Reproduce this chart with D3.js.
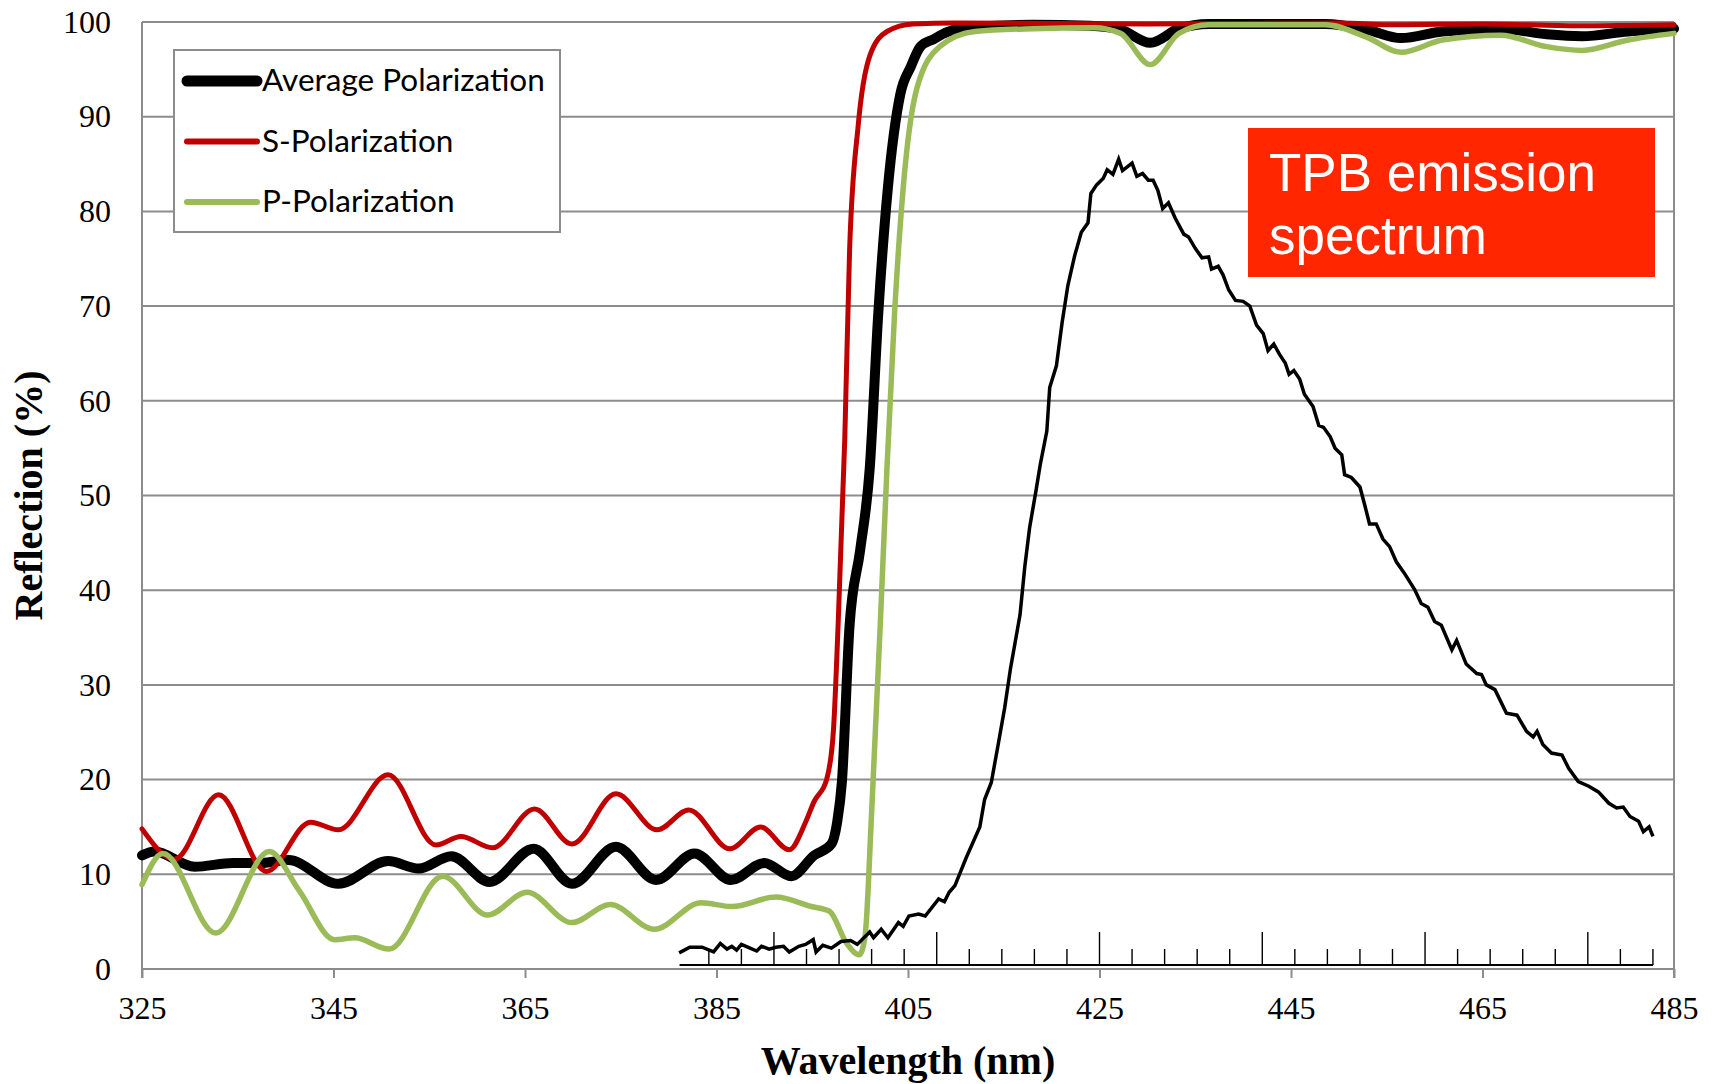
<!DOCTYPE html>
<html>
<head>
<meta charset="utf-8">
<script src="https://cdn.jsdelivr.net/npm/d3@7"></script>
<style>
  html, body { margin: 0; padding: 0; background: #fff; }
  svg { display: block; }
</style>
</head>
<body>
<svg id="chart" width="1715" height="1084"></svg>
<script>
// ---- Reflection of the dichroic filter (wavelength in nm, reflection in %) ----
const avgWavelength = [325.0, 326.3, 330.5, 334.5, 337.5, 340.3, 345.5, 350.7, 353.9, 357.3, 361.3, 365.9, 369.9, 374.5, 378.7, 382.7, 386.5, 390.0, 392.8, 395.2, 397.0, 397.6, 398.1, 398.9, 400.0, 401.0, 401.9, 402.9, 404.2, 405.3, 406.3, 407.7, 409.0, 412.0, 418.0, 424.0, 427.2, 430.3, 433.3, 436.4, 448.6, 452.9, 456.5, 460.8, 466.9, 471.7, 475.4, 480.2, 485.0];
const avgReflection = [12.0, 12.4, 10.8, 11.2, 11.2, 11.5, 9.0, 11.4, 10.6, 11.9, 9.2, 12.7, 9.0, 12.9, 9.4, 12.2, 9.4, 11.2, 9.8, 12.0, 13.2, 15.5, 19.8, 36.3, 44.2, 52.8, 69.3, 82.5, 92.4, 95.3, 97.4, 98.2, 98.9, 99.5, 99.7, 99.6, 99.2, 97.8, 99.3, 99.8, 99.8, 99.2, 98.3, 99.0, 99.3, 98.7, 98.5, 99.0, 99.3];

const sWavelength = [325.0, 328.4, 333.0, 338.0, 342.6, 345.5, 350.7, 355.7, 358.3, 361.6, 366.0, 369.9, 374.5, 378.8, 382.1, 386.4, 389.6, 392.6, 394.3, 395.2, 396.5, 397.2, 397.7, 398.4, 398.9, 399.8, 401.0, 402.8, 405.5, 410.0, 430.0, 450.0, 456.0, 465.0, 475.0, 485.0];
const sReflection = [14.8, 11.6, 18.4, 10.3, 15.5, 14.7, 20.5, 13.1, 14.0, 12.8, 16.9, 13.2, 18.5, 14.7, 16.8, 12.7, 15.0, 12.6, 15.5, 17.7, 20.0, 25.0, 36.3, 56.1, 75.9, 89.1, 96.4, 99.0, 99.8, 99.9, 99.8, 99.9, 99.7, 99.8, 99.6, 99.7];

const pWavelength = [325.0, 327.2, 332.7, 338.3, 341.4, 345.1, 347.2, 350.8, 356.4, 361.1, 365.2, 369.9, 373.9, 378.5, 383.4, 386.6, 391.2, 394.9, 396.8, 398.6, 399.9, 400.5, 401.2, 402.1, 402.8, 403.6, 404.5, 405.9, 408.3, 412.0, 418.1, 424.4, 427.2, 430.3, 433.3, 436.4, 448.6, 452.9, 456.5, 460.8, 466.9, 471.7, 475.4, 480.2, 485.0];
const pReflection = [8.9, 12.2, 3.8, 12.4, 8.3, 3.1, 3.3, 2.1, 9.8, 5.7, 8.1, 4.9, 6.8, 4.2, 7.0, 6.6, 7.6, 6.6, 6.1, 2.7, 1.5, 3.3, 16.5, 36.3, 52.8, 69.3, 82.5, 92.9, 97.4, 99.0, 99.3, 99.4, 98.8, 95.5, 98.8, 99.7, 99.7, 98.4, 96.8, 98.1, 98.6, 97.4, 97.0, 98.1, 98.8];

// ---- TPB emission spectrum overlay (relative intensity on the same vertical scale) ----
const tpbWavelength = [381.1, 382.2, 383.5, 384.7, 385.4, 386.1, 386.6, 387.1, 387.6, 388.5, 389.2, 389.7, 390.5, 391.2, 392.0, 392.6, 393.6, 394.3, 395.1, 395.4, 396.1, 397.0, 398.0, 399.0, 399.7, 401.0, 401.4, 402.2, 402.9, 404.0, 404.5, 405.1, 406.1, 406.8, 408.2, 408.8, 409.3, 409.9, 411.1, 412.5, 413.0, 413.7, 414.4, 415.1, 415.7, 416.7, 417.2, 417.7, 418.4, 418.8, 419.5, 419.8, 420.5, 421.1, 421.7, 422.4, 423.1, 423.8, 424.1, 424.7, 425.4, 425.8, 426.4, 427.0, 427.4, 428.4, 428.9, 429.5, 430.1, 430.6, 431.1, 431.6, 432.2, 432.9, 433.8, 434.3, 435.0, 435.7, 436.4, 436.7, 437.4, 437.9, 438.5, 439.2, 440.0, 440.7, 441.4, 442.1, 442.6, 443.2, 443.8, 444.4, 444.8, 445.3, 445.9, 446.4, 447.3, 447.9, 448.4, 449.1, 449.6, 450.3, 450.6, 451.3, 452.2, 452.7, 453.2, 453.9, 454.6, 455.3, 456.0, 456.9, 457.9, 458.6, 459.3, 460.0, 460.7, 461.8, 462.3, 463.3, 464.4, 464.9, 465.4, 466.3, 467.5, 468.6, 469.6, 470.3, 470.7, 471.3, 472.2, 473.3, 474.0, 475.0, 476.1, 477.1, 478.2, 479.0, 479.7, 480.4, 481.3, 481.8, 482.4, 482.8];
const tpbIntensity = [1.7, 2.3, 2.3, 1.8, 2.7, 2.1, 2.4, 2.0, 2.6, 2.2, 1.9, 2.4, 2.1, 2.3, 2.4, 1.8, 2.4, 2.6, 3.1, 1.8, 2.5, 2.2, 2.9, 3.0, 2.6, 3.9, 3.3, 4.2, 3.3, 4.9, 4.5, 5.6, 5.8, 5.6, 7.4, 7.1, 8.1, 8.8, 11.8, 15.0, 17.9, 19.7, 23.6, 27.6, 31.7, 37.4, 42.5, 46.6, 50.7, 53.2, 56.8, 61.4, 63.7, 68.3, 72.2, 75.3, 77.8, 78.8, 81.9, 82.8, 83.5, 84.4, 83.9, 85.5, 84.3, 85.1, 83.7, 84.0, 83.3, 83.3, 82.2, 80.3, 80.9, 79.3, 77.6, 77.3, 76.1, 75.1, 75.2, 73.9, 74.2, 73.3, 71.7, 70.6, 70.5, 70.0, 68.0, 67.1, 65.3, 66.0, 64.9, 64.0, 62.8, 63.2, 62.3, 60.7, 59.4, 57.4, 57.2, 56.2, 55.0, 54.3, 52.2, 51.9, 50.9, 49.0, 47.0, 47.0, 45.4, 44.6, 43.0, 41.7, 40.1, 38.6, 38.2, 36.7, 36.3, 33.7, 34.7, 32.2, 31.2, 31.1, 30.0, 29.5, 27.0, 26.8, 25.1, 24.5, 25.1, 23.7, 22.8, 22.6, 21.2, 19.8, 19.3, 18.7, 17.5, 17.0, 17.1, 16.1, 15.6, 14.5, 15.0, 14.0];

// Own wavelength axis of the emission overlay
const tpbAxisDomain = [321, 620];
const tpbAxisTicks = d3.range(330, 621, 10);

// Axes
const xTicks = [325, 345, 365, 385, 405, 425, 445, 465, 485];
const yTicks = [0, 10, 20, 30, 40, 50, 60, 70, 80, 90, 100];

const seriesNames = ["Average Polarization", "S-Polarization", "P-Polarization"];
const seriesColors = ["#000000", "#C00000", "#9BBB59"];
const seriesWidths = [10, 5, 5.5];
const legendWidths = [11, 6, 6];

const xAxisTitle = "Wavelength (nm)";
const yAxisTitle = "Reflection (%)";
const noteLines = ["TPB emission", "spectrum"];

// ---------------------------------------------------------------------------
const svg = d3.select("#chart");
const gridColor = "#8c8c8c";
const serif = "'Liberation Serif', 'Times New Roman', serif";

const x = d3.scaleLinear().domain([325, 485]).range([142, 1674]);
const y = d3.scaleLinear().domain([0, 100]).range([969, 22]);

// horizontal gridlines
svg.append("g")
  .selectAll("line")
  .data(yTicks)
  .join("line")
  .attr("x1", x(325)).attr("x2", x(485))
  .attr("y1", d => y(d)).attr("y2", d => y(d))
  .attr("stroke", gridColor).attr("stroke-width", 2);

// right frame line
svg.append("line")
  .attr("x1", x(485)).attr("x2", x(485))
  .attr("y1", y(100)).attr("y2", y(0) + 9)
  .attr("stroke", gridColor).attr("stroke-width", 2);

// left axis line
svg.append("line")
  .attr("x1", x(325)).attr("x2", x(325))
  .attr("y1", y(100)).attr("y2", y(0) + 9)
  .attr("stroke", gridColor).attr("stroke-width", 2);

// bottom axis
const xAxis = svg.append("g")
  .attr("transform", `translate(0,${y(0)})`)
  .call(d3.axisBottom(x).tickValues(xTicks).tickSize(9).tickPadding(18).tickFormat(d3.format("d")));
xAxis.select(".domain").remove();
xAxis.selectAll(".tick line").attr("stroke", gridColor).attr("stroke-width", 2);
xAxis.selectAll("text")
  .attr("font-family", serif)
  .attr("font-size", 32).attr("fill", "#000");

// left axis labels
const yAxis = svg.append("g")
  .attr("transform", `translate(${x(325)},0)`)
  .call(d3.axisLeft(y).tickValues(yTicks).tickSize(0).tickPadding(31).tickFormat(d3.format("d")));
yAxis.select(".domain").remove();
yAxis.selectAll("text")
  .attr("font-family", serif)
  .attr("font-size", 32).attr("fill", "#000");

// axis titles
svg.append("text")
  .attr("x", (x(325) + x(485)) / 2).attr("y", 1074)
  .attr("text-anchor", "middle")
  .attr("font-family", serif)
  .attr("font-weight", "bold").attr("font-size", 40)
  .text(xAxisTitle);

svg.append("text")
  .attr("transform", `translate(42,${(y(0) + y(100)) / 2}) rotate(-90)`)
  .attr("text-anchor", "middle")
  .attr("font-family", serif)
  .attr("font-weight", "bold").attr("font-size", 40)
  .text(yAxisTitle);

// reflection curves
const seriesData = [
  d3.zip(avgWavelength, avgReflection),
  d3.zip(sWavelength, sReflection),
  d3.zip(pWavelength, pReflection)
];
const smoothLine = d3.line().x(d => x(d[0])).y(d => y(d[1])).curve(d3.curveMonotoneX);

svg.append("g")
  .selectAll("path")
  .data(seriesData)
  .join("path")
  .attr("d", smoothLine)
  .attr("fill", "none")
  .attr("stroke", (d, i) => seriesColors[i])
  .attr("stroke-width", (d, i) => seriesWidths[i])
  .attr("stroke-linejoin", "round")
  .attr("stroke-linecap", "round");

// emission overlay: its own baseline with ticks
const tpbAxisX = d3.scaleLinear().domain([350, 600]).range([x(391), x(476)]);
const baseY = y(0) - 4;
const overlay = svg.append("g");
overlay.append("line")
  .attr("x1", tpbAxisX(tpbAxisDomain[0])).attr("x2", tpbAxisX(tpbAxisDomain[1]))
  .attr("y1", baseY).attr("y2", baseY)
  .attr("stroke", "#000").attr("stroke-width", 2);
overlay.selectAll("line.tk")
  .data(tpbAxisTicks)
  .join("line")
  .attr("class", "tk")
  .attr("x1", d => tpbAxisX(d)).attr("x2", d => tpbAxisX(d))
  .attr("y1", baseY)
  .attr("y2", d => baseY - (d % 50 === 0 ? 33 : 16))
  .attr("stroke", "#000").attr("stroke-width", 1.4);

overlay.append("path")
  .datum(d3.zip(tpbWavelength, tpbIntensity))
  .attr("d", d3.line().x(d => x(d[0])).y(d => y(d[1])))
  .attr("fill", "none")
  .attr("stroke", "#000")
  .attr("stroke-width", 3.5)
  .attr("stroke-linejoin", "miter");

// legend
const legend = svg.append("g");
legend.append("rect")
  .attr("x", 174).attr("y", 50).attr("width", 386).attr("height", 182)
  .attr("fill", "#fff").attr("stroke", gridColor).attr("stroke-width", 2);
const rows = legend.selectAll("g.row")
  .data(seriesNames)
  .join("g")
  .attr("class", "row")
  .attr("transform", (d, i) => `translate(0,${81 + i * 60.5})`);
rows.append("line")
  .attr("x1", 187).attr("x2", 257)
  .attr("stroke", (d, i) => seriesColors[i])
  .attr("stroke-width", (d, i) => legendWidths[i])
  .attr("stroke-linecap", "round");
rows.append("text")
  .attr("x", 262).attr("y", 10)
  .attr("font-family", "Lato, 'Open Sans', sans-serif")
  .attr("font-size", 31.5)
  .attr("fill", "#000")
  .text(d => d);

// note box
const note = svg.append("g");
note.append("rect")
  .attr("x", 1248).attr("y", 128).attr("width", 407).attr("height", 149)
  .attr("fill", "#FF2600");
note.selectAll("text")
  .data(noteLines)
  .join("text")
  .attr("x", 1269)
  .attr("y", (d, i) => 191 + i * 63)
  .attr("font-family", "'Liberation Sans', Arial, sans-serif")
  .attr("font-size", 53)
  .attr("fill", "#fff")
  .text(d => d);
</script>
</body>
</html>
